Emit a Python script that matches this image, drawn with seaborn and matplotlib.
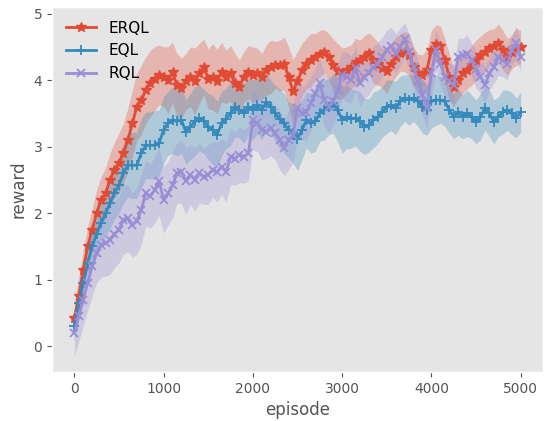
import numpy as np
import pandas as pd
import seaborn as sns
import matplotlib
matplotlib.use("Agg")
import matplotlib.pyplot as plt

# episodes 0..5000, step 50
episodes = list(range(0, 5001, 50))

erql = [0.42, 0.75, 1.15, 1.5, 1.75, 2.0, 2.2, 2.3, 2.5, 2.65,
        2.75, 2.9, 3.1, 3.35, 3.6, 3.7, 3.85, 3.95, 4.02, 4.08,
        4.05, 4.0, 4.12, 3.92, 3.88, 3.98, 4.05, 3.98, 4.1, 4.2,
        4.02, 4.05, 3.98, 4.12, 4.05, 4.1, 3.95, 3.9, 4.05, 4.12,
        4.08, 4.1, 4.05, 4.15, 4.2, 4.23, 4.22, 4.25, 4.05, 3.83,
        3.98, 4.15, 4.25, 4.3, 4.35, 4.4, 4.43, 4.35, 4.22, 4.13,
        4.1, 4.15, 4.2, 4.28, 4.3, 4.35, 4.41, 4.3, 4.25, 4.18,
        4.13, 4.25, 4.35, 4.41, 4.43, 4.38, 4.2, 4.11, 4.08, 4.15,
        4.45, 4.55, 4.52, 4.3, 4.05, 3.9, 4.0, 4.1, 4.15, 4.22,
        4.3, 4.38, 4.42, 4.48, 4.52, 4.56, 4.45, 4.35, 4.42, 4.5,
        4.5]
erql_sd = [0.25, 0.28, 0.3, 0.3, 0.32, 0.35, 0.35, 0.38, 0.4, 0.42,
           0.45, 0.45, 0.48, 0.5, 0.5, 0.52, 0.5, 0.5, 0.48, 0.45,
           0.45, 0.5, 0.45, 0.48, 0.45, 0.42, 0.45, 0.5, 0.45, 0.42,
           0.45, 0.5, 0.48, 0.45, 0.4, 0.42, 0.45, 0.4, 0.38, 0.4,
           0.42, 0.38, 0.35, 0.38, 0.4, 0.35, 0.38, 0.4, 0.45, 0.48,
           0.45, 0.4, 0.38, 0.4, 0.35, 0.35, 0.33, 0.35, 0.4, 0.42,
           0.38, 0.35, 0.33, 0.35, 0.3, 0.32, 0.3, 0.35, 0.32, 0.3,
           0.33, 0.3, 0.3, 0.28, 0.3, 0.32, 0.3, 0.28, 0.3, 0.32,
           0.3, 0.28, 0.3, 0.32, 0.35, 0.3, 0.28, 0.3, 0.28, 0.3,
           0.3, 0.28, 0.3, 0.28, 0.25, 0.28, 0.3, 0.28, 0.25, 0.28,
           0.25]

eql = [0.3, 0.65, 0.95, 1.25, 1.5, 1.68, 1.85, 2.0, 2.15, 2.3,
       2.42, 2.6, 2.72, 2.72, 2.72, 2.9, 3.02, 3.02, 3.02, 3.05,
       3.25, 3.35, 3.4, 3.38, 3.4, 3.22, 3.3, 3.38, 3.43, 3.38,
       3.3, 3.25, 3.18, 3.35, 3.42, 3.5, 3.6, 3.55, 3.5, 3.6,
       3.55, 3.62, 3.55, 3.67, 3.6, 3.5, 3.42, 3.35, 3.25, 3.2,
       3.12, 3.25, 3.4, 3.35, 3.38, 3.5, 3.55, 3.6, 3.65, 3.55,
       3.4, 3.45, 3.42, 3.43, 3.38, 3.3, 3.32, 3.4, 3.45, 3.52,
       3.6, 3.62, 3.58, 3.68, 3.73, 3.7, 3.73, 3.68, 3.6, 3.55,
       3.68, 3.7, 3.7, 3.68, 3.55, 3.45, 3.52, 3.45, 3.5, 3.45,
       3.37, 3.45, 3.58, 3.5, 3.37, 3.45, 3.52, 3.55, 3.5, 3.43,
       3.52]
eql_sd = [0.2, 0.25, 0.28, 0.3, 0.3, 0.32, 0.35, 0.35, 0.38, 0.4,
          0.42, 0.45, 0.48, 0.5, 0.5, 0.52, 0.5, 0.5, 0.52, 0.5,
          0.5, 0.48, 0.5, 0.52, 0.5, 0.48, 0.5, 0.52, 0.5, 0.48,
          0.5, 0.52, 0.5, 0.48, 0.45, 0.48, 0.45, 0.42, 0.45, 0.42,
          0.45, 0.42, 0.45, 0.42, 0.4, 0.42, 0.45, 0.45, 0.42, 0.45,
          0.48, 0.45, 0.42, 0.45, 0.45, 0.42, 0.45, 0.42, 0.45, 0.48,
          0.5, 0.48, 0.45, 0.42, 0.45, 0.42, 0.4, 0.42, 0.4, 0.38,
          0.4, 0.38, 0.4, 0.38, 0.35, 0.38, 0.35, 0.38, 0.4, 0.38,
          0.4, 0.38, 0.35, 0.38, 0.35, 0.33, 0.35, 0.33, 0.35, 0.33,
          0.33, 0.35, 0.33, 0.35, 0.33, 0.3, 0.33, 0.3, 0.32, 0.3,
          0.3]

rql = [0.2, 0.45, 0.7, 0.95, 1.2, 1.4, 1.52, 1.55, 1.6, 1.68,
       1.75, 1.9, 1.92, 1.82, 1.88, 2.05, 2.3, 2.25, 2.35, 2.48,
       2.2, 2.3, 2.42, 2.6, 2.62, 2.48, 2.58, 2.5, 2.6, 2.55,
       2.58, 2.65, 2.62, 2.7, 2.62, 2.85, 2.82, 2.88, 2.85, 2.9,
       3.4, 3.35, 3.25, 3.22, 3.28, 3.2, 3.1, 2.98, 3.1, 3.18,
       3.58, 3.5, 3.52, 3.65, 3.8, 3.95, 3.7, 3.6, 3.68, 3.85,
       4.08, 4.05, 4.0, 4.18, 3.95, 4.05, 4.1, 4.2, 4.25, 4.35,
       4.45, 4.52, 4.4, 4.5, 4.62, 4.42, 4.2, 3.98, 3.78, 3.58,
       4.1, 4.45, 4.25, 4.05, 3.98, 3.93, 4.35, 4.38, 4.4, 4.3,
       4.16, 4.05, 3.93, 4.1, 4.2, 4.35, 4.3, 4.25, 4.45, 4.56,
       4.35]
rql_sd = [0.35, 0.38, 0.4, 0.42, 0.45, 0.45, 0.48, 0.5, 0.52, 0.5,
          0.5, 0.52, 0.5, 0.48, 0.5, 0.52, 0.5, 0.48, 0.5, 0.52,
          0.5, 0.48, 0.5, 0.45, 0.48, 0.5, 0.45, 0.48, 0.45, 0.42,
          0.45, 0.42, 0.45, 0.42, 0.45, 0.42, 0.4, 0.42, 0.4, 0.42,
          0.45, 0.42, 0.45, 0.4, 0.42, 0.4, 0.45, 0.42, 0.45, 0.42,
          0.45, 0.4, 0.42, 0.4, 0.38, 0.4, 0.38, 0.4, 0.35, 0.38,
          0.35, 0.38, 0.35, 0.33, 0.35, 0.33, 0.32, 0.3, 0.32, 0.3,
          0.3, 0.28, 0.3, 0.28, 0.25, 0.28, 0.3, 0.32, 0.3, 0.32,
          0.35, 0.3, 0.32, 0.3, 0.28, 0.3, 0.28, 0.25, 0.28, 0.25,
          0.28, 0.25, 0.28, 0.25, 0.25, 0.28, 0.25, 0.25, 0.22, 0.25,
          0.22]

series = [
    ("ERQL", erql, erql_sd, "#E24A33", "*", 7, 1.0),
    ("EQL", eql, eql_sd, "#348ABD", "+", 7, 1.3),
    ("RQL", rql, rql_sd, "#988ED5", "x", 6, 1.3),
]

plt.style.use("ggplot")
fig = plt.figure(figsize=(5.45, 4.21), dpi=100)
ax = fig.add_axes([0.0954, 0.1164, 0.9963 - 0.0954, 0.9834 - 0.1164])

for name, vals, sd, color, mk, ms, mew in series:
    df = pd.DataFrame({"episode": episodes, "reward": vals})
    lo = np.array(vals) - np.array(sd)
    hi = np.array(vals) + np.array(sd)
    ax.fill_between(episodes, lo, hi, color=color, alpha=0.3, linewidth=0)
    sns.lineplot(data=df, x="episode", y="reward", ax=ax, color=color,
                 marker=mk, markersize=ms, markeredgecolor=color,
                 markeredgewidth=mew, linewidth=2, label=name)

ax.grid(False)
ax.set_xlim(-250, 5250)
ax.set_ylim(-0.39, 5.1)
ax.set_xticks([0, 1000, 2000, 3000, 4000, 5000])
ax.set_yticks([0, 1, 2, 3, 4, 5])
ax.tick_params(colors="#555555", labelsize=10)
ax.set_xlabel("episode", color="#555555", fontsize=12)
ax.set_ylabel("reward", color="#555555", fontsize=12)
ax.legend(loc="upper left", frameon=False, fontsize=11)

fig.savefig("out.png", dpi=100)
